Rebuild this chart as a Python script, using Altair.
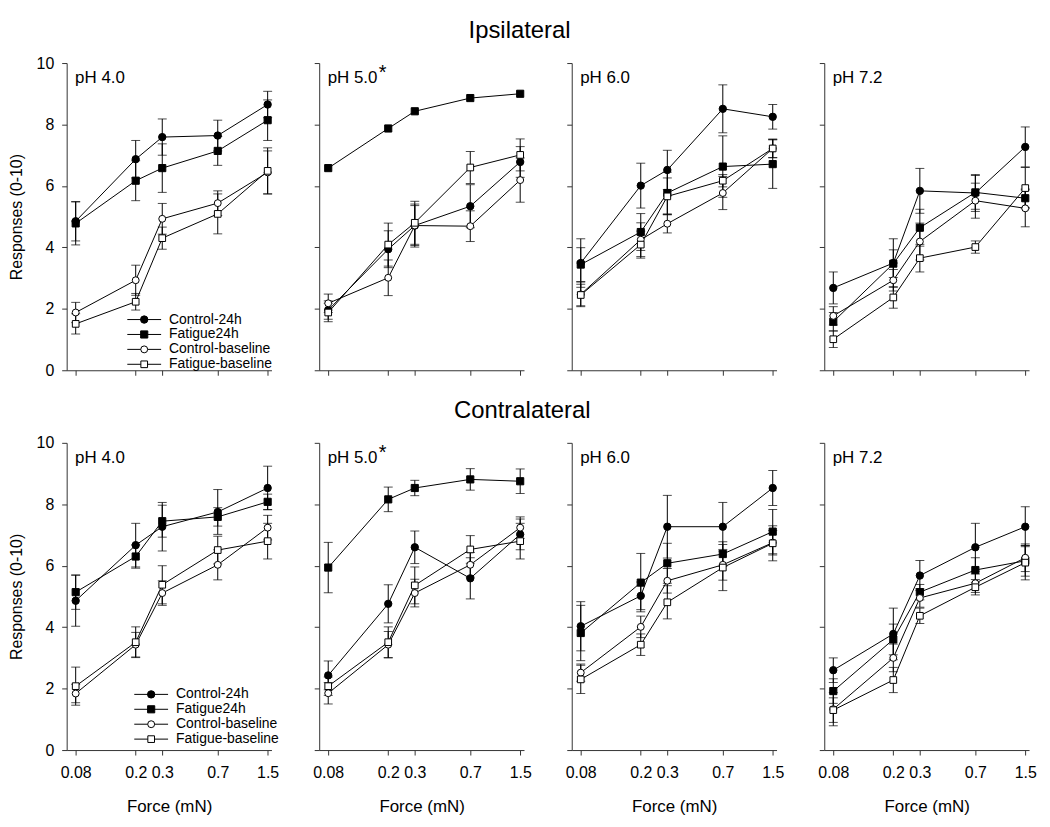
import altair as alt
import pandas as pd

FONT = "Liberation Sans"

force = [0.08, 0.2, 0.3, 0.7, 1.5]
series = ["Control-24h", "Fatigue24h", "Control-baseline", "Fatigue-baseline"]
ph_labels = ["pH 4.0", "pH 5.0", "pH 6.0", "pH 7.2"]
ph_star = [False, True, False, False]
row_titles = ["Ipsilateral", "Contralateral"]

# ---- Ipsilateral (rows: Control-24h, Fatigue24h, Control-baseline, Fatigue-baseline)
ipsi_40_mean = [[4.85, 6.87, 7.59, 7.64, 8.65],
                [4.78, 6.17, 6.58, 7.14, 8.14],
                [1.88, 2.93, 4.93, 5.44, 6.44],
                [1.51, 2.23, 4.30, 5.09, 6.49]]
ipsi_40_sem = [[0.64, 0.61, 0.59, 0.50, 0.43],
               [0.70, 0.65, 0.79, 0.47, 0.66],
               [0.33, 0.49, 0.50, 0.40, 0.70],
               [0.33, 0.27, 0.36, 0.65, 0.75]]
ipsi_50_mean = [[1.96, 3.94, 4.71, 5.34, 6.78],
                [6.58, 7.87, 8.43, 8.86, 9.00],
                [2.18, 3.01, 4.71, 4.69, 6.19],
                [1.88, 4.09, 4.80, 6.60, 7.01]]
ipsi_50_sem = [[0.30, 0.60, 0.70, 0.70, 0.50],
               [0.00, 0.00, 0.00, 0.00, 0.00],
               [0.30, 0.58, 0.65, 0.50, 0.72],
               [0.30, 0.70, 0.70, 0.52, 0.52]]
ipsi_60_mean = [[3.49, 6.01, 6.52, 8.51, 8.25],
                [3.44, 4.50, 5.77, 6.63, 6.71],
                [2.47, 4.25, 4.77, 5.77, 7.22],
                [2.45, 4.09, 5.66, 6.17, 7.22]]
ipsi_60_sem = [[0.79, 0.73, 0.64, 0.78, 0.40],
               [0.55, 0.60, 0.68, 1.00, 0.79],
               [0.40, 0.55, 0.30, 0.54, 0.30],
               [0.35, 0.44, 0.60, 0.20, 0.30]]
ipsi_72_mean = [[2.68, 3.49, 5.84, 5.77, 7.27],
                [1.58, 3.47, 4.64, 5.79, 5.60],
                [1.77, 2.93, 4.19, 5.52, 5.27],
                [1.01, 2.37, 3.65, 4.01, 5.93]]
ipsi_72_sem = [[0.52, 0.79, 0.73, 0.60, 0.65],
               [0.30, 0.45, 0.60, 0.55, 0.30],
               [0.30, 0.35, 0.60, 0.57, 0.60],
               [0.27, 0.35, 0.45, 0.20, 0.67]]

# ---- Contralateral
contra_40_mean = [[4.86, 6.67, 7.27, 7.75, 8.53],
                  [5.14, 6.30, 7.45, 7.59, 8.08],
                  [1.84, 3.43, 5.11, 6.03, 7.24],
                  [2.08, 3.51, 5.38, 6.51, 6.80]]
contra_40_sem = [[0.83, 0.71, 0.79, 0.73, 0.71],
                 [0.56, 0.38, 0.52, 0.30, 0.25],
                 [0.30, 0.40, 0.40, 0.49, 0.40],
                 [0.62, 0.50, 0.62, 0.45, 0.58]]
contra_50_mean = [[2.43, 4.76, 6.60, 5.59, 7.02],
                  [5.94, 8.16, 8.53, 8.81, 8.75],
                  [1.85, 3.43, 5.11, 6.03, 7.24],
                  [2.08, 3.51, 5.36, 6.53, 6.80]]
contra_50_sem = [[0.47, 0.62, 0.53, 0.67, 0.50],
                 [0.82, 0.40, 0.25, 0.35, 0.40],
                 [0.35, 0.43, 0.45, 0.40, 0.35],
                 [0.30, 0.50, 0.60, 0.45, 0.58]]
contra_60_mean = [[4.03, 5.02, 7.27, 7.27, 8.53],
                  [3.81, 5.45, 6.08, 6.38, 7.11],
                  [2.52, 4.01, 5.51, 6.03, 6.75],
                  [2.30, 3.43, 4.81, 5.94, 6.73]]
contra_60_sem = [[0.80, 0.45, 1.02, 0.79, 0.57],
                 [0.90, 0.95, 0.65, 0.40, 0.72],
                 [0.28, 0.35, 0.40, 0.50, 0.40],
                 [0.46, 0.35, 0.54, 0.75, 0.57]]
contra_72_mean = [[2.60, 3.78, 5.68, 6.60, 7.27],
                  [1.92, 3.60, 5.14, 5.86, 6.16],
                  [1.33, 3.00, 4.95, 5.43, 6.26],
                  [1.30, 2.28, 4.37, 5.30, 6.10]]
contra_72_sem = [[0.40, 0.84, 0.49, 0.78, 0.65],
                 [0.40, 0.50, 0.25, 0.40, 0.50],
                 [0.54, 0.45, 0.30, 0.30, 0.45],
                 [0.40, 0.41, 0.25, 0.25, 0.56]]

rows_data = [
    [(ipsi_40_mean, ipsi_40_sem), (ipsi_50_mean, ipsi_50_sem),
     (ipsi_60_mean, ipsi_60_sem), (ipsi_72_mean, ipsi_72_sem)],
    [(contra_40_mean, contra_40_sem), (contra_50_mean, contra_50_sem),
     (contra_60_mean, contra_60_sem), (contra_72_mean, contra_72_sem)],
]

W, H = 206, 309
AX = "#333333"
shape_scale = alt.Scale(domain=series, range=["circle", "square", "circle", "square"])
fill_scale = alt.Scale(domain=series, range=["black", "black", "white", "white"])
size_scale = alt.Scale(domain=series, range=[55, 45, 50, 42])


def panel(mean, sem, col, row):
    recs = []
    for s, ml, el in zip(series, mean, sem):
        for f, m, e in zip(force, ml, el):
            recs.append(dict(series=s, force=f, mean=m, sem=e, lo=m - e, hi=m + e))
    df = pd.DataFrame(recs)
    first = col == 0
    bottom = row == 1

    xkw = dict(values=force, format="~g", labels=bottom, grid=False, tickSize=5,
               labelFlush=False, labelOverlap=False, labelFontSize=16,
               labelPadding=10, titleFontSize=17, titlePadding=18,
               titleFontWeight="normal")
    xaxis = alt.Axis(title="Force (mN)", **xkw) if bottom else alt.Axis(title=None, **xkw)
    ykw = dict(values=[0, 2, 4, 6, 8, 10], labels=first, grid=False, tickSize=5,
               labelFontSize=16, labelPadding=8, titleFontSize=16, titlePadding=12,
               titleFontWeight="normal")
    yaxis = alt.Axis(title="Responses (0-10)", **ykw) if first else alt.Axis(title=None, **ykw)

    xs = alt.Scale(type="log", domain=[0.0697, 1.59], nice=False)
    ys = alt.Scale(domain=[0, 10], nice=False)
    X = alt.X("force:Q", scale=xs, axis=xaxis)
    base = alt.Chart(df)

    lines = base.mark_line(color="black", strokeWidth=1).encode(
        x=X, y=alt.Y("mean:Q", scale=ys, axis=yaxis), detail="series:N")
    eb = base.transform_filter("datum.sem > 0")
    bars = eb.mark_rule(color="black", strokeWidth=1).encode(
        x=alt.X("force:Q"), y=alt.Y("lo:Q"), y2="hi:Q")
    cap_lo = eb.mark_tick(color="black", orient="horizontal", size=9, thickness=1).encode(
        x=alt.X("force:Q"), y=alt.Y("lo:Q"))
    cap_hi = eb.mark_tick(color="black", orient="horizontal", size=9, thickness=1).encode(
        x=alt.X("force:Q"), y=alt.Y("hi:Q"))
    pts = base.mark_point(filled=True, stroke="black", strokeWidth=1, opacity=1).encode(
        x=alt.X("force:Q"), y=alt.Y("mean:Q"),
        shape=alt.Shape("series:N", scale=shape_scale, legend=None),
        fill=alt.Fill("series:N", scale=fill_scale, legend=None),
        size=alt.Size("series:N", scale=size_scale, legend=None))

    lab = alt.Chart(pd.DataFrame({"label": [ph_labels[col]]})).mark_text(
        align="left", baseline="middle", fontSize=17, font=FONT, color="black").encode(
        text="label:N", x=alt.value(8.5), y=alt.value(15))
    layers = [lines, bars, cap_lo, cap_hi, pts, lab]
    if ph_star[col]:
        star = alt.Chart(pd.DataFrame({"label": ["*"]})).mark_text(
            align="left", baseline="middle", fontSize=20, font=FONT, color="black").encode(
            text="label:N", x=alt.value(60), y=alt.value(10))
        layers.append(star)

    if first:
        leg = pd.DataFrame({"series": series})
        step = 15
        top = 258 if row == 0 else 253
        dx = 0 if row == 0 else 7
        leg["ly"] = [top + i * step for i in range(len(series))]
        lbase = alt.Chart(leg)
        lrule = lbase.mark_rule(color="black", strokeWidth=1).encode(
            x=alt.value(61 + dx), x2=alt.value(95 + dx),
            y=alt.Y("ly:Q", scale=None))
        lpts = lbase.mark_point(filled=True, stroke="black", strokeWidth=1, opacity=1).encode(
            x=alt.value(78 + dx), y=alt.Y("ly:Q", scale=None),
            shape=alt.Shape("series:N", scale=shape_scale, legend=None),
            fill=alt.Fill("series:N", scale=fill_scale, legend=None),
            size=alt.Size("series:N", scale=size_scale, legend=None))
        ltxt = lbase.mark_text(align="left", baseline="middle", fontSize=14,
                               font=FONT, color="black").encode(
            x=alt.value(103 + dx), y=alt.Y("ly:Q", scale=None), text="series:N")
        layers += [lrule, lpts, ltxt]

    return alt.layer(*layers).properties(width=W, height=H)


rows = []
for r in range(2):
    panels = [panel(m, s, c, r) for c, (m, s) in enumerate(rows_data[r])]
    rows.append(alt.hconcat(*panels, spacing=48, bounds="flush").properties(
        title=alt.TitleParams(row_titles[r], fontSize=24, font=FONT,
                              fontWeight="normal", anchor="middle", offset=12)))

chart = alt.vconcat(*rows, spacing=21).properties(
    padding={"left": 0, "top": 9, "right": 5, "bottom": 5}
).configure(font=FONT).configure_view(stroke=None).configure_axis(
    domainColor=AX, tickColor=AX, domainWidth=1, tickWidth=1,
    labelColor="black", titleColor="black", labelFont=FONT, titleFont=FONT)

chart.save("out.html", embed_options={"renderer": "svg", "actions": False})
